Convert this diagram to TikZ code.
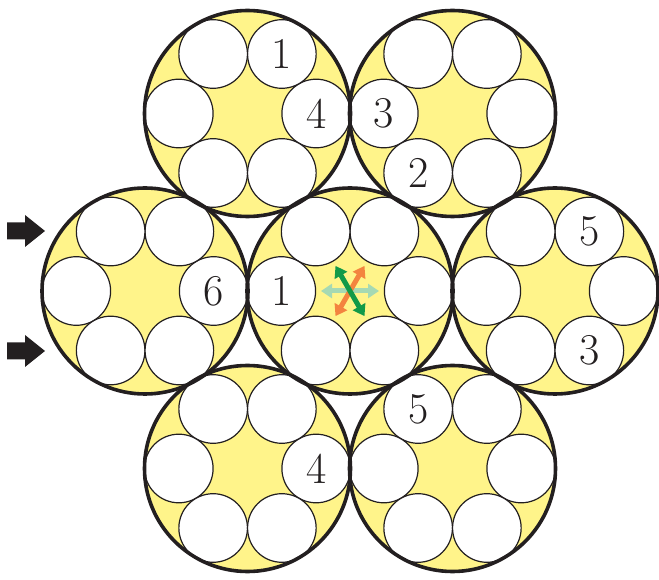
\documentclass[tikz,border=0pt]{standalone}
\usepackage{tikz}
\usetikzlibrary{arrows.meta,calc}
\definecolor{rpCore}{HTML}{FFF48A}
\definecolor{rpInk}{HTML}{231F20}
\definecolor{rpMint}{HTML}{A6D9B3}
\definecolor{rpOrange}{HTML}{F3843F}
\definecolor{rpGreen}{HTML}{129A48}
\tikzset{
  strand/.style={circle, fill=rpCore, minimum size=206pt, inner sep=0pt},
  rim/.style={line width=3.6pt, draw=rpInk},
  wire/.style={circle, draw=rpInk, line width=1.2pt, fill=white, minimum size=68.6pt, inner sep=0pt},
  digit/.style={font=\fontsize{44}{44}\selectfont, text=rpInk, inner sep=0pt},
  pointer/.style={fill=rpInk},
  strain/.style={line width=5pt, {Triangle[length=11pt,width=14pt]}-{Triangle[length=11pt,width=14pt]}}
}
\begin{document}
\begin{tikzpicture}[x=1pt,y=1pt]
  \useasboundingbox (0,0) rectangle (659,579);
  % seven strands
  \foreach \n/\px/\py in {tl/247.5/465.5, tr/452.5/465.5, ml/145/288, mc/350/288,
                          mr/555/288, bl/247.5/110.5, br/452.5/110.5}
    \node[strand] (\n) at (\px,\py) {};
  % six wires in each strand
  \foreach \n in {tl,tr,ml,mc,mr,bl,br}
    \foreach \a in {0,60,...,300}
      \node[wire] (\n-\a) at ($(\n)+(\a:68.7)$) {};
  \foreach \n in {tl,tr,ml,mc,mr,bl,br}
    \draw[rim] (\n.center) circle (103);
  % wire numbers
  \foreach \n/\a/\t in {tl/60/1, tl/0/4, tr/180/3, tr/240/2, ml/0/6, mc/180/1,
                        mr/60/5, mr/300/3, bl/0/4, br/120/5}
    \node[digit] (lab-\n-\a) at (\n-\a) {\t};
  % load arrows
  \foreach \py in {348,228}
    \fill[pointer] (7,\py+8.5) -- (25,\py+8.5) -- (25,\py+16) -- (45,\py)
      -- (25,\py-16) -- (25,\py-8.5) -- (7,\py-8.5) -- cycle;
  % strain directions
  \foreach \a in {0,60,120} {
    \coordinate (sa-\a) at ($(mc)+(\a:29)$);
    \coordinate (sb-\a) at ($(mc)+(\a+180:29)$);
  }
  \draw[strain, rpMint] (sb-0) -- (sa-0);
  \draw[strain, rpOrange] (sb-60) -- (sa-60);
  \draw[strain, rpGreen] (sb-120) -- (sa-120);
\end{tikzpicture}
\end{document}
